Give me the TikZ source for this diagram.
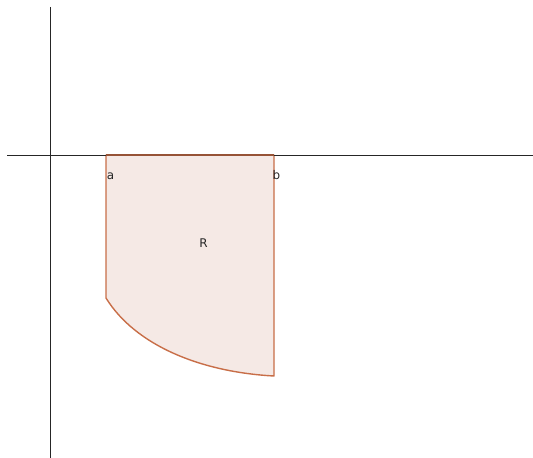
\documentclass[tikz,border=0pt]{standalone}
\usepackage{fontspec}
\setmainfont{DejaVu Sans}
\definecolor{regfill}{HTML}{F5E9E5}
\definecolor{regline}{HTML}{C86E48}
\begin{document}
\begin{tikzpicture}[x=1bp,y=-1bp,
  axis/.style={draw=black!85,line width=0.9bp},
  region/.style={draw=regline,fill=regfill,line width=1.4bp,line join=round},
  lbl/.style={font=\fontsize{12}{14}\selectfont,text=black!85,inner sep=0pt}]
\useasboundingbox (0,0) rectangle (533,458);
\coordinate (a) at (106,155);
\coordinate (b) at (274,155);
\coordinate (bb) at (274,376);
\coordinate (aa) at (106,298);
\filldraw[region] (a) -- (b) -- (bb)
  .. controls (200,372) and (135,345) .. (aa) -- cycle;
\draw[axis] (7,155) -- (533,155);
\draw[axis] (50,7) -- (50,458);
\draw[regline!75!black,line width=1.4bp] (a) -- (b);
\node[lbl,anchor=base] (la) at (110.5,179.5) {a};
\node[lbl,anchor=base] (lb) at (276.5,179.5) {b};
\node[lbl,anchor=base] (lr) at (203.5,248) {R};
\end{tikzpicture}
\end{document}
